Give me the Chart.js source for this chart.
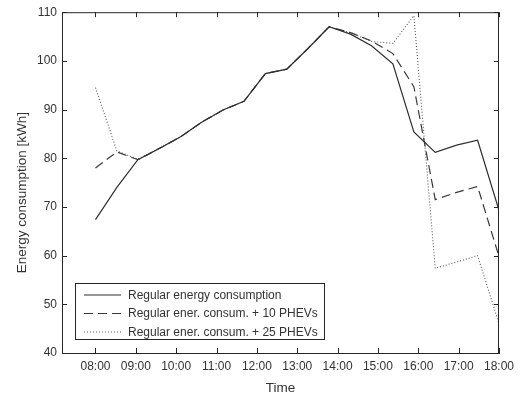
<!DOCTYPE html>
<html>
<head>
<meta charset="utf-8">
<script src="https://cdn.jsdelivr.net/npm/chart.js@4/dist/chart.umd.min.js"></script>
<style>
  html, body { margin: 0; padding: 0; background: #fff; }
  #wrap { width: 521px; height: 398px; }
</style>
</head>
<body>
<div id="wrap"><canvas id="c" width="521" height="398"></canvas></div>
<script>
// Time (hours) of each sample
const hours = [8.00, 8.53, 9.05, 9.58, 10.11, 10.63, 11.16, 11.68, 12.21, 12.74,
               13.26, 13.79, 14.32, 14.84, 15.37, 15.89, 16.42, 16.95, 17.47, 18.00];
// Series values [kWh]
const regular = [67.4, 74.0, 79.7, 82.0, 84.4, 87.4, 89.9, 91.7, 97.4, 98.3,
                 102.5, 107.0, 105.5, 103.1, 99.4, 85.4, 81.2, 82.7, 83.7, 69.3];
const phev10  = [78.0, 81.3, 79.7, 82.0, 84.4, 87.4, 89.9, 91.7, 97.4, 98.3,
                 102.5, 107.0, 105.8, 104.1, 101.5, 94.7, 71.5, 73.0, 74.2, 59.8];
const phev25  = [94.5, 81.5, 79.8, 82.0, 84.4, 87.4, 89.9, 91.7, 97.4, 98.3,
                 102.5, 107.0, 105.8, 104.0, 103.6, 109.3, 57.4, 58.7, 60.0, 46.0];
// Tick labels
const xTickHours = [8, 9, 10, 11, 12, 13, 14, 15, 16, 17, 18];
const xTickLabels = ["08:00","09:00","10:00","11:00","12:00","13:00","14:00","15:00","16:00","17:00","18:00"];
const seriesNames = ["Regular energy consumption", "Regular ener. consum. + 10 PHEVs", "Regular ener. consum. + 25 PHEVs"];
const yTitle = "Energy consumption [kWh]";

const FONT = "'Liberation Sans', Arial, Helvetica, sans-serif";
const AX = '#262626';
const TXT = '#333333';

function pts(vals) { return vals.map((v, i) => ({ x: hours[i], y: v })); }

const boxTicks = {
  id: 'boxTicks',
  afterDraw(chart) {
    const { ctx, chartArea: { left, right, top, bottom }, scales: { x, y } } = chart;
    ctx.save();
    ctx.strokeStyle = AX;
    ctx.lineWidth = 1;
    ctx.beginPath();
    ctx.moveTo(left, top + 0.5); ctx.lineTo(right, top + 0.5);
    ctx.moveTo(right - 0.5, top); ctx.lineTo(right - 0.5, bottom);
    const L = 5;
    x.ticks.forEach(t => {
      const px = Math.round(x.getPixelForValue(t.value)) + 0.5;
      ctx.moveTo(px, bottom); ctx.lineTo(px, bottom - L);
      ctx.moveTo(px, top); ctx.lineTo(px, top + L);
    });
    y.ticks.forEach(t => {
      const py = Math.round(y.getPixelForValue(t.value)) + 0.5;
      ctx.moveTo(left, py); ctx.lineTo(left + L, py);
      ctx.moveTo(right, py); ctx.lineTo(right - L, py);
    });
    ctx.stroke();

    // y-axis title
    ctx.save();
    ctx.translate(22, (top + bottom) / 2 + 10);
    ctx.rotate(-Math.PI / 2);
    ctx.font = '13.5px ' + FONT;
    ctx.fillStyle = TXT;
    ctx.textAlign = 'center';
    ctx.textBaseline = 'middle';
    ctx.fillText(yTitle, 0, 0);
    ctx.restore();

    // legend box
    const lx = left + 13, ly = bottom - 70, lw = 249, lh = 56;
    ctx.fillStyle = '#fff';
    ctx.fillRect(lx, ly, lw, lh);
    ctx.strokeRect(lx + 0.5, ly + 0.5, lw, lh);
    ctx.font = '12px ' + FONT;
    ctx.textBaseline = 'middle';
    ctx.textAlign = 'left';
    chart.data.datasets.forEach((ds, i) => {
      const cy = ly + 12 + i * 18.5;
      ctx.beginPath();
      ctx.strokeStyle = ds.borderColor;
      ctx.lineWidth = ds.borderWidth;
      ctx.setLineDash(ds.borderDash || []);
      ctx.moveTo(lx + 9, cy); ctx.lineTo(lx + 46, cy);
      ctx.stroke();
      ctx.setLineDash([]);
      ctx.fillStyle = TXT;
      ctx.fillText(ds.label, lx + 53, cy + 0.5);
    });
    ctx.restore();
  }
};

new Chart(document.getElementById('c'), {
  type: 'line',
  data: {
    datasets: [
      { label: seriesNames[0], data: pts(regular), borderColor: '#2e2e2e', borderWidth: 1.2, borderDash: [], pointRadius: 0, tension: 0, fill: false },
      { label: seriesNames[1], data: pts(phev10), borderColor: '#3a3a3a', borderWidth: 1.2, borderDash: [9, 5], pointRadius: 0, tension: 0, fill: false },
      { label: seriesNames[2], data: pts(phev25), borderColor: '#5a5a5a', borderWidth: 1.1, borderDash: [1, 2], pointRadius: 0, tension: 0, fill: false }
    ]
  },
  options: {
    responsive: false,
    devicePixelRatio: 1,
    animation: false,
    layout: { padding: { left: 0, right: 22, top: 6, bottom: 0 } },
    plugins: { legend: { display: false }, tooltip: { enabled: false }, title: { display: false } },
    scales: {
      x: {
        type: 'linear',
        min: 7.17, max: 18,
        grid: { display: false, drawTicks: false },
        border: { display: true, color: AX, width: 1 },
        afterBuildTicks(scale) { scale.ticks = xTickHours.map(v => ({ value: v })); },
        afterFit(scale) { scale.height = 45; },
        ticks: {
          autoSkip: false, maxRotation: 0, padding: 6,
          color: TXT, font: { family: FONT, size: 12 },
          callback(v) { const i = xTickHours.indexOf(v); return i >= 0 ? xTickLabels[i] : ''; }
        },
        title: { display: true, text: 'Time', color: TXT, font: { family: FONT, size: 13.5 }, padding: { top: 0, bottom: 2 } }
      },
      y: {
        min: 40, max: 110,
        grid: { display: false, drawTicks: false },
        border: { display: true, color: AX, width: 1 },
        afterFit(scale) { scale.width = 62; },
        ticks: { stepSize: 10, padding: 5, color: TXT, font: { family: FONT, size: 12 } },
        title: { display: false }
      }
    }
  },
  plugins: [boxTicks]
});
</script>
</body>
</html>
